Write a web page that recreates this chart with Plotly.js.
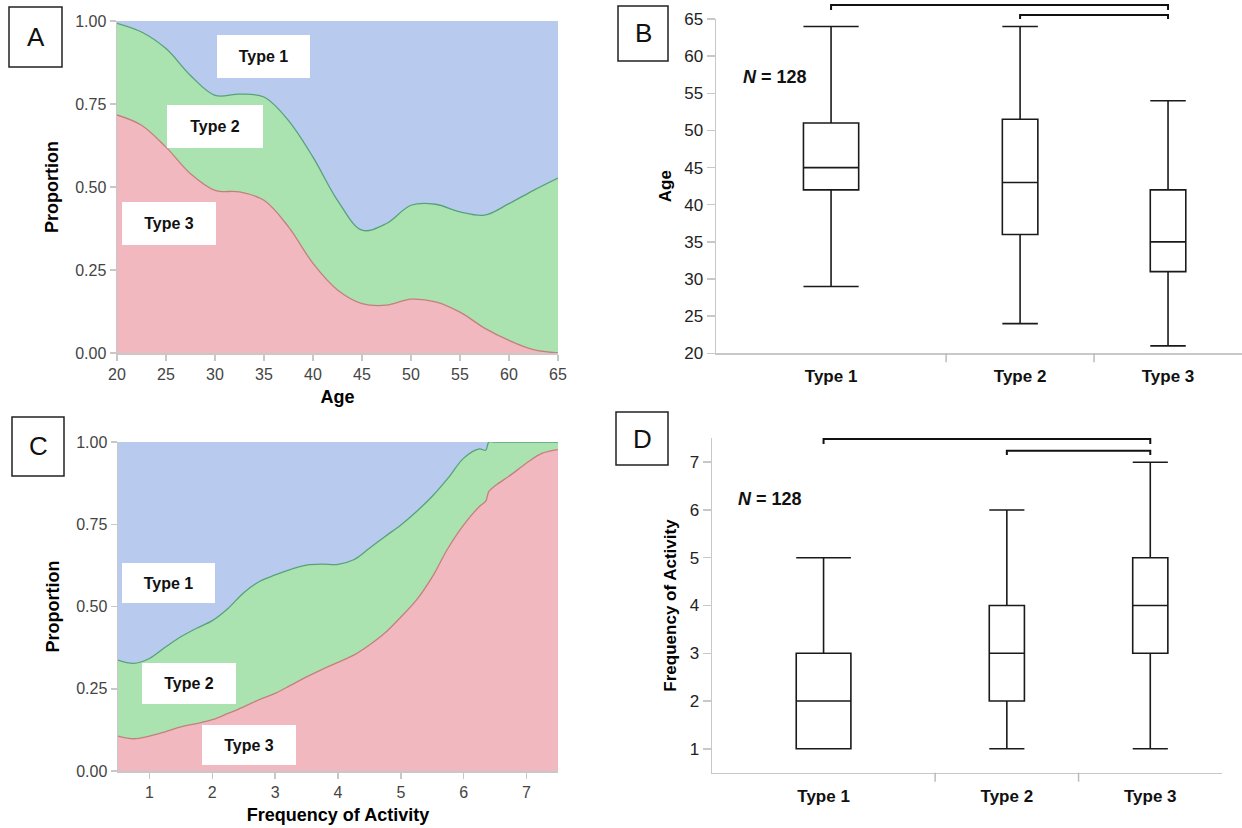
<!DOCTYPE html>
<html><head><meta charset="utf-8">
<script src="https://cdn.plot.ly/plotly-3.0.1.min.js"></script>
<style>html,body{margin:0;padding:0;background:#fff;} #chart{width:1242px;height:828px;}</style>
</head><body><div id="chart"></div>
<script>
// ---------- DATA ----------
const typeNames = ['Type 1', 'Type 2', 'Type 3'];
const groupCounts = [56, 36, 36]; // N = 128

// Panel A: proportion of each type by age
const ageGrid  = [20, 22.5, 25, 27.5, 30, 32.5, 35, 37.5, 40, 42.5, 45, 47.5, 50, 52.5, 55, 57.5, 60, 62.5, 65];
const ageType3 = [0.717, 0.686, 0.62, 0.54, 0.49, 0.485, 0.46, 0.38, 0.27, 0.19, 0.149, 0.144, 0.162, 0.154, 0.123, 0.075, 0.038, 0.01, 0.0];
const ageType2 = [0.276, 0.281, 0.297, 0.296, 0.286, 0.295, 0.311, 0.32, 0.32, 0.27, 0.221, 0.246, 0.283, 0.294, 0.302, 0.34, 0.412, 0.48, 0.527];
const ageType1 = [0.007, 0.033, 0.083, 0.164, 0.224, 0.22, 0.229, 0.30, 0.41, 0.54, 0.63, 0.61, 0.555, 0.552, 0.575, 0.585, 0.55, 0.51, 0.473];

// Panel C: proportion of each type by frequency of activity
const freqGrid  = [0.5, 0.75, 1, 1.25, 1.5, 1.75, 2, 2.25, 2.5, 2.75, 3, 3.25, 3.5, 3.75, 4, 4.25, 4.5, 4.75, 5, 5.25, 5.5, 5.75, 6, 6.25, 6.35, 6.4, 6.5, 6.75, 7, 7.25, 7.5];
const freqType3 = [0.106, 0.098, 0.106, 0.119, 0.134, 0.144, 0.156, 0.175, 0.195, 0.217, 0.236, 0.261, 0.286, 0.309, 0.33, 0.352, 0.383, 0.42, 0.468, 0.52, 0.59, 0.677, 0.748, 0.804, 0.82, 0.85, 0.867, 0.90, 0.936, 0.966, 0.977];
const freqType2 = [0.231, 0.229, 0.236, 0.257, 0.274, 0.290, 0.301, 0.319, 0.347, 0.359, 0.360, 0.352, 0.340, 0.320, 0.298, 0.290, 0.294, 0.293, 0.280, 0.269, 0.245, 0.213, 0.203, 0.175, 0.155, 0.150, 0.133, 0.100, 0.064, 0.034, 0.023];
const freqType1 = [0.663, 0.673, 0.658, 0.624, 0.592, 0.566, 0.543, 0.506, 0.458, 0.424, 0.404, 0.387, 0.374, 0.371, 0.372, 0.358, 0.323, 0.287, 0.252, 0.211, 0.165, 0.110, 0.049, 0.021, 0.025, 0, 0, 0, 0, 0, 0];

// Panel B: age box plot statistics per type
const ageLower  = [29, 24, 21];
const ageQ1     = [42, 36, 31];
const ageMedian = [45, 43, 35];
const ageQ3     = [51, 51.5, 42];
const ageUpper  = [64, 64, 54];

// Panel D: frequency box plot statistics per type
const freqLower  = [1, 1, 1];
const freqQ1     = [1, 2, 3];
const freqMedian = [2, 3, 4];
const freqQ3     = [3, 4, 5];
const freqUpper  = [5, 6, 7];

// Tick values / labels
const ageTicks = [20, 25, 30, 35, 40, 45, 50, 55, 60, 65];
const propTicks = [0, 0.25, 0.5, 0.75, 1];
const propTickText = ['0.00', '0.25', '0.50', '0.75', '1.00'];
const freqTicks = [1, 2, 3, 4, 5, 6, 7];
const nLabel = 128;

// ---------- HELPERS ----------
const W = 1242, H = 828;
const PX = p => p / W;
const PY = p => 1 - p / H;
const total = groupCounts.reduce((a, b) => a + b, 0);
const bounds = []; let acc = 0;
groupCounts.forEach(c => { bounds.push(acc); acc += c; });
const centers = groupCounts.map((c, i) => bounds[i] + c / 2);
const innerBounds = bounds.slice(1);

const BLUE = '#b8cbef', GREEN = '#aae2b0', PINK = '#f1b9bf';
const LGREEN = '#55a27a', LRED = '#c47f7c';
const AX = '#c8c8c8';
const tickFontAC = {family: 'Liberation Sans, Arial, sans-serif', size: 16, color: '#444'};
const narrow = 'Liberation Sans Narrow, Liberation Sans, Arial, sans-serif';

function areaTraces(x, t1, t2, t3, xa, ya, grp) {
  return [
    {type: 'scatter', mode: 'lines', x: x, y: t3, stackgroup: grp, name: 'Type 3', xaxis: xa, yaxis: ya,
     line: {shape: 'spline', smoothing: 1, color: LRED, width: 1.3}, fillcolor: PINK, showlegend: false, hoverinfo: 'skip'},
    {type: 'scatter', mode: 'lines', x: x, y: t2, stackgroup: grp, name: 'Type 2', xaxis: xa, yaxis: ya,
     line: {shape: 'spline', smoothing: 1, color: LGREEN, width: 1.3}, fillcolor: GREEN, showlegend: false, hoverinfo: 'skip'},
    {type: 'scatter', mode: 'lines', x: x, y: t1, stackgroup: grp, name: 'Type 1', xaxis: xa, yaxis: ya,
     line: {shape: 'spline', smoothing: 1, color: BLUE, width: 0}, fillcolor: BLUE, showlegend: false, hoverinfo: 'skip'}
  ];
}

function boxTraces(lower, q1, med, q3, upper, xa, ya, wfac) {
  return typeNames.map((n, i) => ({
    type: 'box', name: n, xaxis: xa, yaxis: ya, x: [centers[i]],
    lowerfence: [lower[i]], q1: [q1[i]], median: [med[i]], q3: [q3[i]], upperfence: [upper[i]],
    width: groupCounts[i] * wfac, whiskerwidth: 1, fillcolor: 'white',
    line: {color: '#1a1a1a', width: 1.6}, boxpoints: false, showlegend: false, hoverinfo: 'skip'
  }));
}

const data = [
  ...areaTraces(ageGrid, ageType1, ageType2, ageType3, 'x', 'y', 'age'),
  ...boxTraces(ageLower, ageQ1, ageMedian, ageQ3, ageUpper, 'x2', 'y2', 0.24),
  ...areaTraces(freqGrid, freqType1, freqType2, freqType3, 'x3', 'y3', 'freq'),
  ...boxTraces(freqLower, freqQ1, freqMedian, freqQ3, freqUpper, 'x4', 'y4', 0.245)
];

function propX(dom, range, ticks, title, anchor) {
  return {domain: dom, anchor: anchor, range: range, tickvals: ticks, showline: true, linecolor: AX, linewidth: 1.5,
    ticks: 'outside', ticklen: 6, tickcolor: AX, tickwidth: 1.5, showgrid: false, zeroline: false, tickfont: tickFontAC,
    title: {text: title, font: {family: 'Liberation Sans, Arial, sans-serif', size: 18, weight: 'bold', color: '#000'}, standoff: 8},
    fixedrange: true};
}
function propY(dom, anchor) {
  return {domain: dom, anchor: anchor, range: [0, 1], tickvals: propTicks, ticktext: propTickText, showline: true,
    linecolor: AX, linewidth: 1.5, ticks: 'outside', ticklen: 6, tickcolor: AX, tickwidth: 1.5, showgrid: false,
    zeroline: false, tickfont: tickFontAC,
    title: {text: 'Proportion', font: {family: 'Liberation Sans, Arial, sans-serif', size: 18, weight: 'bold', color: '#000'}, standoff: 12},
    fixedrange: true};
}
function catX(dom, anchor) {
  return {domain: dom, anchor: anchor, range: [0, total], tickvals: centers, ticktext: typeNames, showline: true,
    linecolor: AX, linewidth: 1.5, ticks: 'outside', ticklen: 7, tickcolor: 'rgba(0,0,0,0)', showgrid: false, zeroline: false,
    tickfont: {family: narrow, size: 17, weight: 'bold', color: '#111'}, fixedrange: true};
}
function valY(dom, anchor, range, ticks, title) {
  return {domain: dom, anchor: anchor, range: range, tickvals: ticks, showline: true, linecolor: AX, linewidth: 1.5,
    ticks: 'outside', ticklen: 8, tickcolor: AX, tickwidth: 1.5, showgrid: false, zeroline: false,
    tickfont: {family: narrow, size: 17, color: '#222'},
    title: {text: title, font: {family: 'Liberation Sans, Arial, sans-serif', size: 17, weight: 'bold', color: '#000'}, standoff: 8},
    fixedrange: true};
}

const shapes = [];
const annotations = [];

// Panel letters
[['A', 9, 7, 62, 67], ['B', 618, 6, 668, 61], ['C', 12, 417, 64, 476], ['D', 616, 412, 668, 465]].forEach(([t, x0, y0, x1, y1]) => {
  shapes.push({type: 'rect', xref: 'paper', yref: 'paper', x0: PX(x0), x1: PX(x1), y0: PY(y1), y1: PY(y0),
    line: {color: '#222', width: 1.5}, fillcolor: 'white'});
  annotations.push({xref: 'paper', yref: 'paper', x: PX((x0 + x1) / 2), y: PY((y0 + y1) / 2), text: t, showarrow: false,
    xanchor: 'center', yanchor: 'middle', font: {family: 'Liberation Sans, Arial, sans-serif', size: 26, color: '#111'}});
});

// Type label boxes on area charts
[['Type 1', 217, 35, 310, 78], ['Type 2', 167, 105, 263, 148], ['Type 3', 122, 202, 216, 245],
 ['Type 1', 122, 563, 215, 603], ['Type 2', 142, 663, 236, 704], ['Type 3', 202, 725, 296, 765]].forEach(([t, x0, y0, x1, y1]) => {
  annotations.push({xref: 'paper', yref: 'paper', x: PX((x0 + x1) / 2), y: PY((y0 + y1) / 2), text: t, showarrow: false,
    xanchor: 'center', yanchor: 'middle', width: x1 - x0, height: y1 - y0, bgcolor: 'white', borderpad: 0, borderwidth: 0,
    font: {family: 'Liberation Sans, Arial, sans-serif', size: 16, weight: 'bold', color: '#111'}});
});

// N labels
annotations.push({xref: 'paper', yref: 'paper', x: PX(775), y: PY(65), text: '<i>N</i> = ' + nLabel, showarrow: false,
  font: {family: narrow, size: 18, weight: 'bold', color: '#111'}});
annotations.push({xref: 'paper', yref: 'paper', x: PX(770), y: PY(499), text: '<i>N</i> = ' + nLabel, showarrow: false,
  font: {family: narrow, size: 18, weight: 'bold', color: '#111'}});

// Category separators and significance brackets
function catDecor(xa, ydom, sepLen, br1, br1tip, br2, br2tip) {
  innerBounds.forEach(b => shapes.push({type: 'line', xref: xa, yref: ydom, x0: b, x1: b, y0: 0, y1: -sepLen,
    line: {color: '#bbb', width: 1.5}}));
  shapes.push({type: 'path', xref: xa, yref: ydom,
    path: `M ${centers[0]},${br1tip} L ${centers[0]},${br1} L ${centers[2]},${br1} L ${centers[2]},${br1tip}`,
    line: {color: '#111', width: 2}});
  shapes.push({type: 'path', xref: xa, yref: ydom,
    path: `M ${centers[1]},${br2tip} L ${centers[1]},${br2} L ${centers[2]},${br2} L ${centers[2]},${br2tip}`,
    line: {color: '#111', width: 2}});
}
catDecor('x2', 'y2 domain', 0.027, 1.042, 1.027, 1.012, 1.0);
catDecor('x4', 'y4 domain', 0.027, 0.998, 0.983, 0.963, 0.950);

const layout = {
  width: W, height: H, margin: {l: 0, r: 0, t: 0, b: 0}, paper_bgcolor: 'white', plot_bgcolor: 'rgba(0,0,0,0)',
  showlegend: false, hovermode: false, boxmode: 'overlay',
  xaxis: propX([PX(117), PX(558)], [20, 65], ageTicks, 'Age', 'y'),
  yaxis: propY([PY(353), PY(21)], 'x'),
  xaxis2: catX([PX(716), 1], 'y2'),
  yaxis2: valY([PY(353.3), PY(19)], 'x2', [20, 65], ageTicks, 'Age'),
  xaxis3: propX([PX(118), PX(558)], [0.5, 7.5], freqTicks, 'Frequency of Activity', 'y3'),
  yaxis3: propY([PY(771), PY(442)], 'x3'),
  xaxis4: catX([PX(712), PX(1222)], 'y4'),
  yaxis4: valY([PY(772.7), PY(438.3)], 'x4', [0.5, 7.5], freqTicks, 'Frequency of Activity'),
  shapes: shapes, annotations: annotations
};

Plotly.newPlot('chart', data, layout, {displayModeBar: false, staticPlot: true});
</script>
</body></html>
